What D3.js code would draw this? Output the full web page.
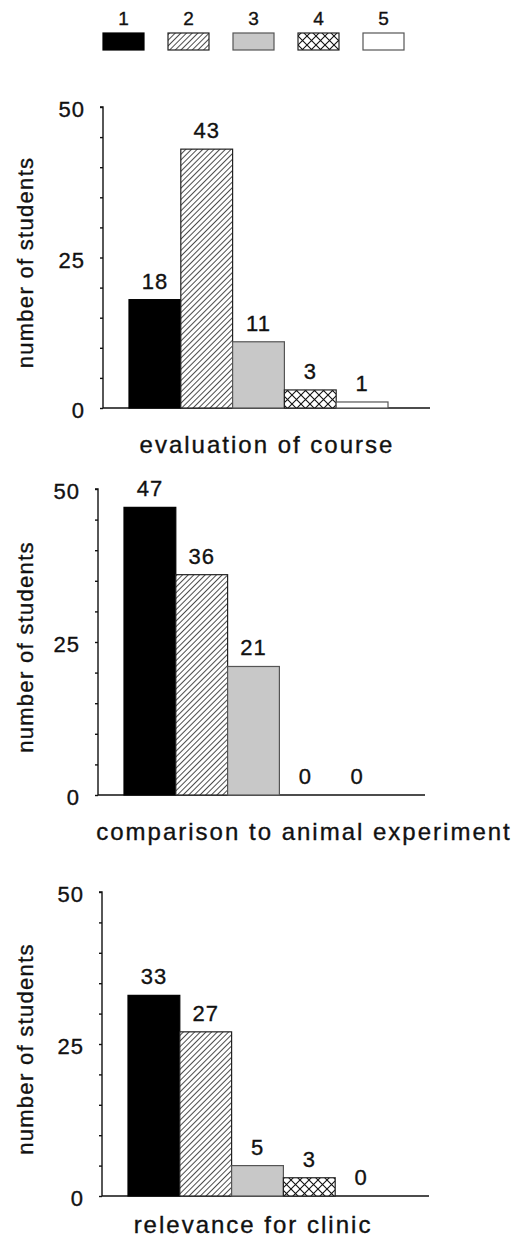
<!DOCTYPE html>
<html>
<head>
<meta charset="utf-8">
<script src="https://cdn.jsdelivr.net/npm/d3@7/dist/d3.min.js"></script>
<style>
  body { margin: 0; background: #fff; }
  svg { font-family: "Liberation Sans", Arial, sans-serif; }
  svg text { stroke: #111; stroke-width: 0.35px; }
  .axis path, .axis line { stroke: #111; stroke-width: 1.4; }
  .axis text { font-size: 22px; fill: #111; letter-spacing: 1px; }
  .bar-label { font-size: 22px; fill: #111; text-anchor: middle; letter-spacing: 1px; }
  .ylabel { font-size: 22px; fill: #111; text-anchor: middle; letter-spacing: 1.3px; }
  .title { font-size: 24px; fill: #111; text-anchor: middle; letter-spacing: 2px; }
  .legend-label { font-size: 19px; fill: #111; text-anchor: middle; }
</style>
</head>
<body>
<svg width="531" height="1240"></svg>
<script>
// rating categories 1..5
const categories = ["1", "2", "3", "4", "5"]

// number of students per rating
const courseValues = [18, 43, 11, 3, 1]
const animalValues = [47, 36, 21, 0, 0]
const clinicValues = [33, 27, 5, 3, 0]

const panelTitles = ["evaluation of course", "comparison to animal experiment", "relevance for clinic"]
const yTicks = [0, 25, 50]
const yLabel = "number of students"

var svg = d3.select("svg")
var defs = svg.append("defs")

// diagonal hatch
defs.append("pattern")
    .attr("id", "hatch")
    .attr("patternUnits", "userSpaceOnUse")
    .attr("width", 4).attr("height", 4)
    .attr("patternTransform", "rotate(45)")
  .call(function(p) {
    p.append("rect").attr("width", 4).attr("height", 4).attr("fill", "#fff")
    p.append("line").attr("x1", 0).attr("y1", 0).attr("x2", 0).attr("y2", 4)
     .attr("stroke", "#111").attr("stroke-width", 1.5)
  })

// cross hatch
defs.append("pattern")
    .attr("id", "cross")
    .attr("patternUnits", "userSpaceOnUse")
    .attr("width", 9).attr("height", 9)
  .call(function(p) {
    p.append("rect").attr("width", 9).attr("height", 9).attr("fill", "#fff")
    p.append("path").attr("d", "M0,0L9,9M9,0L0,9")
     .attr("stroke", "#111").attr("stroke-width", 1.1)
  })

const fills = ["#000", "url(#hatch)", "#c8c8c8", "url(#cross)", "#fff"]
const strokes = ["#000", "#222", "#555", "#222", "#555"]

// legend
var legend = svg.append("g").attr("transform", "translate(103,0)")
var lx = d3.scalePoint().domain(categories).range([0, 260])
categories.forEach(function(c, i) {
	var lg = legend.append("g").attr("transform", "translate(" + lx(c) + ",0)")
	lg.append("rect")
	  .attr("x", 0).attr("y", 33)
	  .attr("width", 41).attr("height", 17)
	  .attr("fill", fills[i])
	  .attr("stroke", strokes[i])
	  .attr("stroke-width", 1.2)
	lg.append("text")
	  .attr("class", "legend-label")
	  .attr("x", 20.5).attr("y", 25)
	  .text(c)
})

// panel layout
var panels = [
	{ values: courseValues, ax: 103, top: 107, bottom: 408, titleX: 267, titleY: 453 },
	{ values: animalValues, ax: 98,  top: 489, bottom: 795, titleX: 304, titleY: 840 },
	{ values: clinicValues, ax: 102, top: 892, bottom: 1196, titleX: 253, titleY: 1233 }
]

panels.forEach(function(p, pi) {
	var g = svg.append("g").attr("transform", "translate(" + p.ax + "," + p.top + ")")
	var h = p.bottom - p.top

	var y = d3.scaleLinear().domain([0, 50]).range([h, 0])
	var x = d3.scaleBand().domain(categories).range([26, 285]).padding(0)

	// y axis with minor ticks every 5
	var yAxis = g.append("g")
	  .attr("class", "axis")
	  .call(d3.axisLeft(y)
	      .tickValues(d3.range(0, 51, 5))
	      .tickSize(3)
	      .tickPadding(15)
	      .tickFormat(function(d) { return yTicks.indexOf(d) >= 0 ? d : "" }))
	yAxis.select(".domain").attr("d", "M-3," + y(50) + "H0V" + y(0))
	yAxis.selectAll("text").attr("dy", "0.45em")

	// x baseline
	g.append("line")
	  .attr("x1", 0).attr("x2", 327)
	  .attr("y1", y(0)).attr("y2", y(0))
	  .attr("stroke", "#111").attr("stroke-width", 1.5)

	var bars = p.values.map(function(v, i) { return { c: categories[i], v: v, i: i } })

	g.selectAll("rect.bar")
	  .data(bars.filter(function(d) { return d.v > 0 }))
	  .enter()
	  .append("rect")
	  .attr("class", "bar")
	  .attr("x", function(d) { return x(d.c) })
	  .attr("y", function(d) { return y(d.v) })
	  .attr("width", x.bandwidth())
	  .attr("height", function(d) { return y(0) - y(d.v) })
	  .attr("fill", function(d) { return fills[d.i] })
	  .attr("stroke", function(d) { return strokes[d.i] })
	  .attr("stroke-width", 1.2)

	g.selectAll("text.bar-label")
	  .data(bars)
	  .enter()
	  .append("text")
	  .attr("class", "bar-label")
	  .attr("x", function(d) { return x(d.c) + x.bandwidth() / 2 })
	  .attr("y", function(d) { return y(d.v) - 11 })
	  .text(function(d) { return d.v })

	// y label
	svg.append("text")
	  .attr("class", "ylabel")
	  .attr("transform", "translate(33," + ((p.top + p.bottom) / 2 + 5) + ") rotate(-90)")
	  .text(yLabel)

	// panel title
	svg.append("text")
	  .attr("class", "title")
	  .attr("x", p.titleX).attr("y", p.titleY)
	  .text(panelTitles[pi])
})
</script>
</body>
</html>
